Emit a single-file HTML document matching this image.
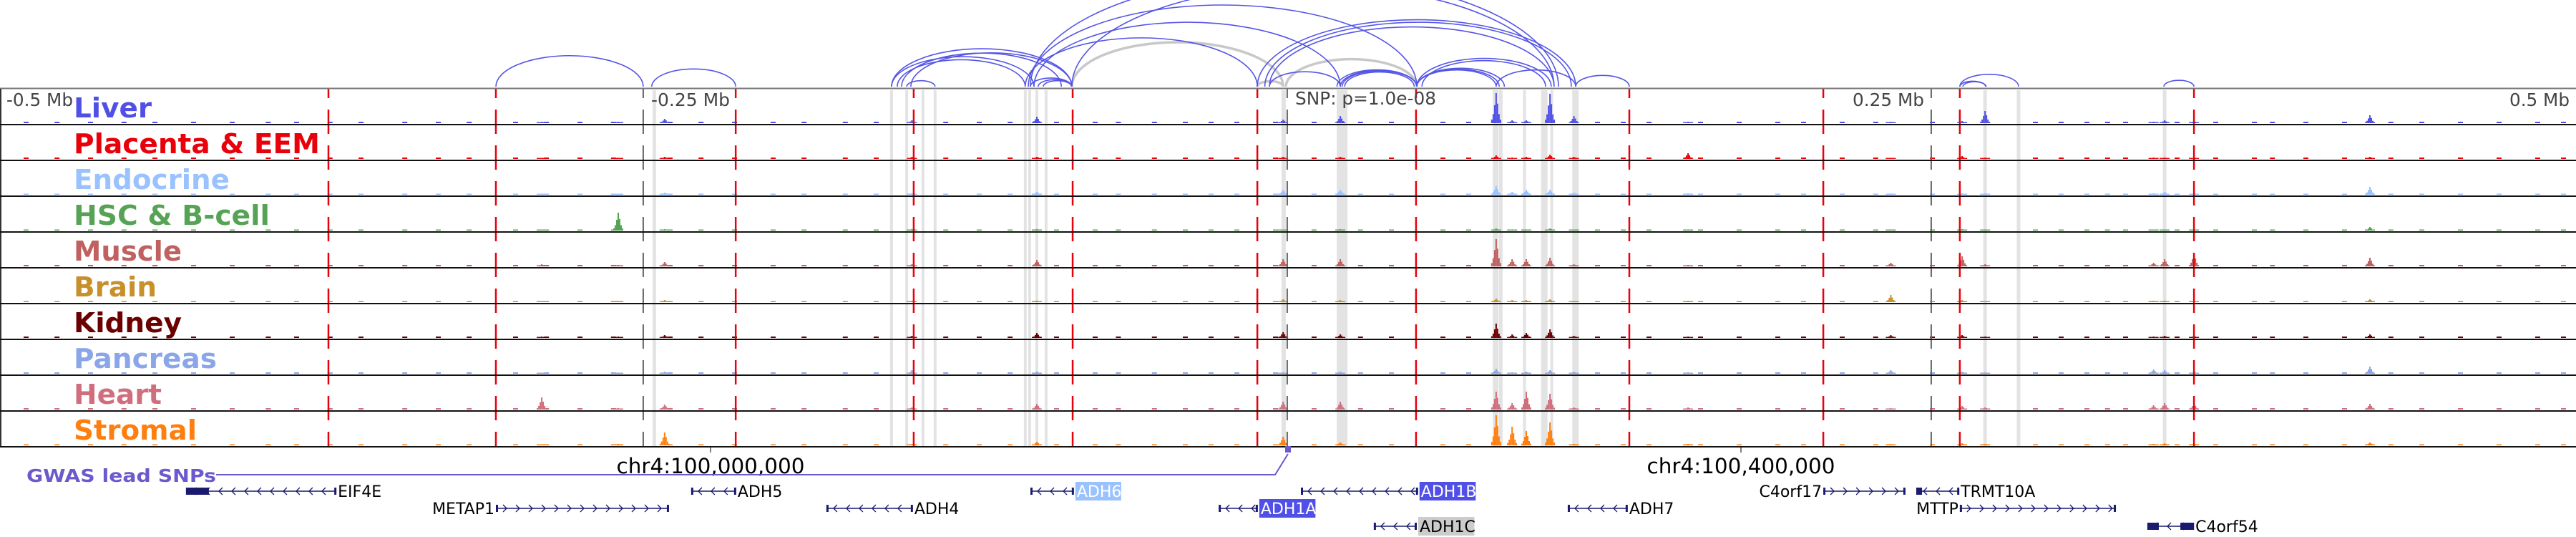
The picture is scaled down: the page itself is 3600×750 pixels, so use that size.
<!DOCTYPE html>
<html><head><meta charset="utf-8">
<style>
html,body{margin:0;padding:0;background:#fff;}
svg{display:block;}
text{font-family:"DejaVu Sans","Liberation Sans",sans-serif;}
</style></head>
<body>
<svg id="chart" width="3600" height="750" viewBox="0 0 3600 750" xmlns="http://www.w3.org/2000/svg">
<g id="shades"></g>
<g id="signals"></g>
<g id="vlines"></g>
<g id="frame"></g>
<g id="arcs"></g>
<g id="labels"></g>
<g id="axis">
  <text x="9" y="148" font-size="25" fill="#444" textLength="93" lengthAdjust="spacingAndGlyphs">-0.5 Mb</text>
  <text x="910" y="148" font-size="25" fill="#444" textLength="110" lengthAdjust="spacingAndGlyphs">-0.25 Mb</text>
  <text x="1810" y="146" font-size="25" fill="#444" textLength="197" lengthAdjust="spacingAndGlyphs">SNP: p=1.0e-08</text>
  <text x="2589" y="148" font-size="25" fill="#444" textLength="100" lengthAdjust="spacingAndGlyphs">0.25 Mb</text>
  <text x="3507" y="148" font-size="25" fill="#444" textLength="84" lengthAdjust="spacingAndGlyphs">0.5 Mb</text>
  <line x1="993" y1="624" x2="993" y2="632" stroke="#000" stroke-width="1"/>
  <line x1="2433" y1="624" x2="2433" y2="632" stroke="#000" stroke-width="1"/>
  <text x="993" y="661" font-size="29" text-anchor="middle" textLength="263" lengthAdjust="spacingAndGlyphs">chr4:100,000,000</text>
  <text x="2433" y="661" font-size="29" text-anchor="middle" textLength="263" lengthAdjust="spacingAndGlyphs">chr4:100,400,000</text>
</g>
<g id="gwas">
  <text x="37" y="673" font-size="25" font-weight="bold" fill="#6a5acd" textLength="265" lengthAdjust="spacingAndGlyphs">GWAS lead SNPs</text>
  <polyline points="302,663 1782,663 1800,634" fill="none" stroke="#6a5acd" stroke-width="2"/>
  <rect x="1796" y="623" width="8" height="9" fill="#6a5acd"/>
</g>
<g id="genes"></g>
</svg>
<script>
// ---------- data ----------
const trackNames = ["Liver","Placenta & EEM","Endocrine","HSC & B-cell","Muscle","Brain","Kidney","Pancreas","Heart","Stromal"];
const trackColors = ["#5050e6","#e8000b","#99c2ff","#56a356","#c06060","#c8902a","#6b0000","#8aa6e8","#d06e7e","#ff7f0e"];
const labelWidths = [109,344,218,274,151,116,151,200,123,172];
// peak positions in kb relative to lead SNP
const peakPos = [-242,-289.7,-260,-146,-97.5,-1.9,20.3,80.8,87,92.5,101.7,111,155.3,234,261.7,270.6,336,340.3,351.7,420];
const liverH    = [6,2,2,4,9,5,10,42,4,4,41,10,2,2,3,17,2,4,3,11];
const placentaH = [3,1,1,3,3,3,3,5,2,3,6,3,8,1,4,2,2,2,2,3];
const endoH     = [3,1,1,2,4,7,7,12,4,7,7,3,2,2,2,2,2,4,2,11];
const hscH      = [2,1,25,2,2,1,2,3,1,1,3,1,1,1,2,1,1,1,1,5];
const muscleH   = [6,3,2,3,9,10,10,38,10,10,12,3,2,5,14,3,5,10,17,12];
const brainH    = [3,1,1,2,2,4,3,5,3,3,4,1,2,10,3,1,2,2,2,4];
const kidneyH   = [4,2,2,3,7,8,5,20,5,7,12,3,2,4,4,2,2,3,3,5];
const pancreasH = [3,1,1,5,3,2,3,7,2,3,5,3,2,5,3,2,6,5,3,10];
const heartH    = [7,17,2,3,8,11,11,25,9,25,22,3,3,2,5,3,6,9,8,8];
const stromalH  = [18,1,2,2,5,12,4,42,26,20,32,2,2,2,3,2,2,3,2,4];
const trackHeights = [liverH,placentaH,endoH,hscH,muscleH,brainH,kidneyH,pancreasH,heartH,stromalH];
const noisePos = [-490,-478,-465,-452,-440,-425,-410,-396,-385,-372,-360,-343,-330,-318,-300,-288,-275,-262,-240,-228,-215,-200,-188,-172,-160,-133,-120,-108,-90,-75,-66,-52,-40,-30,-20,-5,10,28,40,60,70,120,130,140,160,175,190,200,215,228,250,290,300,310,318,325,345,360,375,382,395,410,428,440,455,470,485,495];
const noiseH = [2,2,1.5,1.5,2,1.5,2,2,2,1.5];
const redLines = [-372.5,-307.5,-214.4,-145.3,-83.6,-11.9,49.7,132.5,207.8,260.8,351.7];
const grayLines = [-250.3,-0.3,249.7];
const shadePos = [-246,-153.9,-148,-141.7,-137,-102,-100.3,-97.5,-93.9,-1.7,21,80.6,82.6,91.8,99.5,102.4,111.6,270.6,283.6,340.3];
const shadeW = [5,4,4,4,4,4,4,4,4,6,15,8,5,4,9,4,9,5,5,5];
const arcStart = [-307.5,-247,-153.9,-151.7,-148,-146.4,-153.9,-150,-102,-100.8,-98.6,-97,-100,-95,-7.2,-11.9,-9,-7.2,20.3,19,21,22,50,50,50,50,52,80.8,-83.9,-100,111.7,260.8,260.8,262,340];
const arcEnd   = [-250.3,-214.4,-83.9,-102,-137,-83.9,-98.6,-88,-11.9,50,20.3,-84,-84,-84,103.3,111.7,110,20.3,50,50,50,49,80.8,82,84,102.2,100,111.7,103.3,105,132.5,283.6,270.8,271,351.7];
const grayArcStart = [-83.9,-0.8,-11.9];
const grayArcEnd   = [-1.9,50,-1.9];
const geneNames = ["EIF4E","ADH5","ADH6","ADH1B","C4orf17","TRMT10A","METAP1","ADH4","ADH1A","ADH7","MTTP","ADH1C","C4orf54"];
const geneStart = [-427.8,-231.7,-100,5,207.8,243.9,-307.5,-179.2,-26.9,108.6,260.8,33.3,333.6];
const geneEnd   = [-369.4,-214.2,-83.1,50.5,239.7,260.6,-240.3,-145.6,-11.7,131.9,321.4,50,351.7];
const geneRow   = [0,0,0,0,0,0,1,1,1,1,1,2,2];
const geneStrand= [-1,-1,-1,-1,1,-1,1,-1,-1,-1,1,-1,-1];
const geneLabelSide = [1,1,1,1,-1,1,-1,1,1,1,-1,1,1];
const geneHighlight = ["","","#99c2ff","#5050e6","","","","","#5050e6","","","#cccccc",""];

// ---------- scales ----------
const NS="http://www.w3.org/2000/svg";
const TOP=124, TH=50, NT=10, BOTTOM=TOP+TH*NT;
function xs(kb){return 1800+kb*3.6;}
function el(tag,attrs,parent){const e=document.createElementNS(NS,tag);for(const k in attrs)e.setAttribute(k,attrs[k]);parent.appendChild(e);return e;}

// shades
const gS=document.getElementById('shades');
shadePos.forEach((p,i)=>{
  const r=el('rect',{x:xs(p)-shadeW[i]/2,y:TOP+2,width:shadeW[i],height:BOTTOM-TOP-2,fill:'#e3e3e3'},gS);
  
  
});

// signals
const gSig=document.getElementById('signals');
const prof=[0.12,0.3,0.6,1,0.65,0.3,0.12];
trackHeights.forEach((hs,t)=>{
  const base=TOP+TH*(t+1)-2;
  const g=el('g',{},gSig);
  
  
  noisePos.forEach(p=>{
    const h=noiseH[t];
    el('rect',{x:xs(p)-3,y:base-h,width:7,height:h,fill:trackColors[t]},g);
  });
  peakPos.forEach((p,i)=>{
    const h=hs[i];
    prof.forEach((f,k)=>{
      const hh=Math.max(1.5,h*f);
      el('rect',{x:xs(p)+(k-3)*2-1,y:base-hh,width:2,height:hh,fill:trackColors[t]},g);
    });
  });
});

// vertical lines
const gV=document.getElementById('vlines');
redLines.forEach(p=>{
  const l=el('line',{x1:xs(p),y1:TOP,x2:xs(p),y2:BOTTOM,stroke:'#e8000b','stroke-width':2.5,'stroke-dasharray':'34 16','stroke-dashoffset':21},gV);
  
  
});
grayLines.forEach(p=>{
  const l=el('line',{x1:xs(p),y1:TOP,x2:xs(p),y2:BOTTOM,stroke:'#666','stroke-width':2,'stroke-dasharray':'34 16','stroke-dashoffset':21},gV);
  
  
});

// frame
const gF=document.getElementById('frame');
el('line',{x1:0,y1:TOP-0.5,x2:3600,y2:TOP-0.5,stroke:'#777','stroke-width':2},gF);
el('line',{x1:1,y1:TOP,x2:1,y2:BOTTOM,stroke:'#333','stroke-width':2},gF);
for(let t=1;t<=NT;t++){
  const s=el('line',{x1:0,y1:TOP+TH*t,x2:3600,y2:TOP+TH*t,stroke:'#111','stroke-width':2},gF);
  
  
}

// arcs
const gA=document.getElementById('arcs');
function arc(a,b,color,w){
  const x1=xs(a),x2=xs(b),rx=(x2-x1)/2,ry=(x2-x1)*0.21,y=121;
  return el('path',{d:`M${x1} ${y} A${rx} ${ry} 0 0 1 ${x2} ${y}`,fill:'none',stroke:color,'stroke-width':w},gA);
}
grayArcStart.forEach((a,i)=>{
  const p=arc(a,grayArcEnd[i],'#c8c8c8',3.5);
  
  
});
arcStart.forEach((a,i)=>{
  const p=arc(a,arcEnd[i],'#5555e6',1.6);
  
  
});

// track labels
const gL=document.getElementById('labels');
trackNames.forEach((n,t)=>{
  const tx=el('text',{x:103,y:TOP+TH*t+40,'font-size':38,'font-weight':'bold',fill:trackColors[t],textLength:labelWidths[t],lengthAdjust:'spacingAndGlyphs'},gL);
  tx.textContent=n;
  
  
});

// genes
const gG=document.getElementById('genes');
const rowY=[686,710,735];
geneNames.forEach((n,i)=>{
  const g=el('g',{},gG);
  
  
  const x1=xs(geneStart[i]),x2=xs(geneEnd[i]),y=rowY[geneRow[i]];
  el('line',{x1:x1,y1:y,x2:x2,y2:y,stroke:'#1a1a6e','stroke-width':1.5},g);
  el('rect',{x:x1,y:y-5,width:3,height:10,fill:'#1a1a6e'},g);
  el('rect',{x:x2-3,y:y-5,width:3,height:10,fill:'#1a1a6e'},g);
  if(n==='EIF4E') el('rect',{x:x1,y:y-5,width:32,height:10,fill:'#1a1a6e'},g);
  if(n==='C4orf54'){el('rect',{x:x1,y:y-5,width:16,height:10,fill:'#1a1a6e'},g);el('rect',{x:x2-19,y:y-5,width:19,height:10,fill:'#1a1a6e'},g);}
  if(n==='TRMT10A') el('rect',{x:x1,y:y-5,width:8,height:10,fill:'#1a1a6e'},g);
  const s=geneStrand[i];
  for(let x=x1+10;x<x2-6;x+=18){
    el('path',{d:s<0?`M${x+5} ${y-5} L${x} ${y} L${x+5} ${y+5}`:`M${x} ${y-5} L${x+5} ${y} L${x} ${y+5}`,fill:'none',stroke:'#1a1a6e','stroke-width':1.3},g);
  }
  const side=geneLabelSide[i];
  const lx=side>0?x2+2:x1-2;
  const hl=geneHighlight[i];
  const t=el('text',{x:lx+(hl?2:0),y:y+8,'font-size':22,fill:hl&&hl!=='#cccccc'?'#fff':'#000','text-anchor':side>0?'start':'end'},g);
  t.textContent=n;
  if(hl){
    const w=n.length*14.5+6;
    const r=el('rect',{x:lx,y:y-13,width:w,height:26,fill:hl},g);
    g.insertBefore(r,t);
  }
});
</script>
</body></html>
